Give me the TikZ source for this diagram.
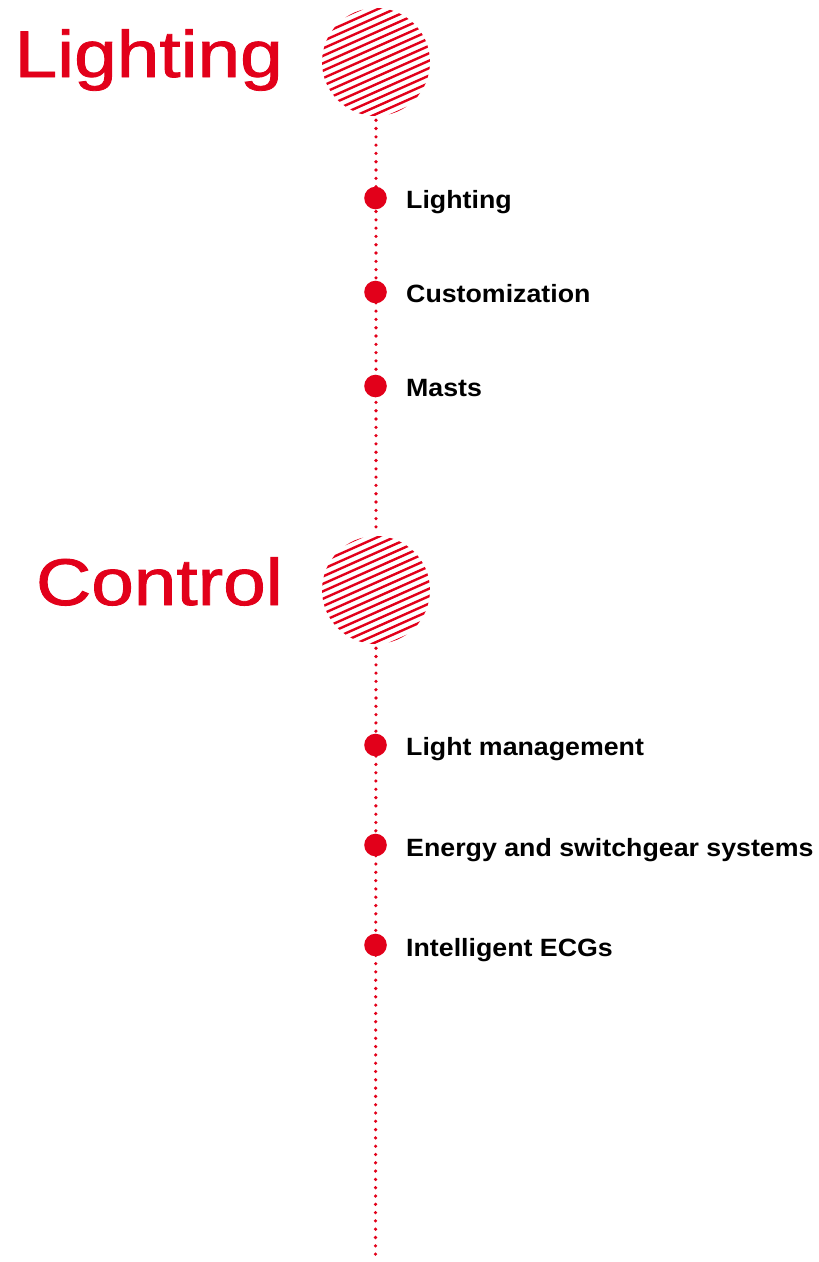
\documentclass[tikz,border=0pt]{standalone}
\usepackage{fontspec}
\setmainfont{Liberation Sans}
\newfontfamily\titlefont[FakeBold=1.2]{Liberation Sans}
\usetikzlibrary{calc}
\definecolor{brandred}{HTML}{E2001A}
\tikzset{
  title/.style={anchor=base east, inner sep=0pt, text=brandred, font=\titlefont\fontsize{66}{66}\selectfont},
  item/.style={anchor=base west, inner sep=0pt, text=black, font=\fontsize{25}{25}\selectfont\bfseries},
  bullet/.style={circle, fill=brandred, draw=none, inner sep=0pt, minimum size=22.6pt},
  dotline/.style={draw=brandred, line width=3.6pt, line cap=round, dash pattern=on 0pt off 8.3pt},
  hatchcircle/.style={circle, draw=none, inner sep=0pt, minimum size=108pt},
  hatchline/.style={draw=brandred, line width=2.4pt},
}
\newcommand{\hatchit}[1]{%
  \begin{scope}
    \clip (#1.center) circle[radius=54pt];
    \foreach \k in {-8,...,8} {
      \draw[hatchline]
        ($(#1.center)+({\k*6.8*sin(24)-70*cos(24)},{\k*6.8*cos(24)+70*sin(24)})$) --
        ($(#1.center)+({\k*6.8*sin(24)+70*cos(24)},{\k*6.8*cos(24)-70*sin(24)})$);
    }
  \end{scope}}
\begin{document}
\begin{tikzpicture}[x=1pt,y=-1pt]
\useasboundingbox (0,0) rectangle (819,1262);
% section circles
\node[hatchcircle] (c1) at (376,62) {};
\node[hatchcircle] (c2) at (376,590) {};
\hatchit{c1}
\hatchit{c2}
% titles
\node[title] (t1) at (283,77) {\scalebox{1.16}[1]{Lighting}};
\node[title] (t2) at (283,605) {\scalebox{1.16}[1]{Control}};
% timeline
\coordinate (end) at (375.5,1257);
\draw[dotline] ([yshift=-4pt]c1.south) -- ([yshift=2pt]c2.north);
\draw[dotline] ([yshift=-4pt]c2.south) -- (end);
% bullets
\node[bullet] (b1) at (375.5,198) {};
\node[bullet] (b2) at (375.5,292) {};
\node[bullet] (b3) at (375.5,386) {};
\node[bullet] (b4) at (375.5,745) {};
\node[bullet] (b5) at (375.5,845) {};
\node[bullet] (b6) at (375.5,945) {};
% labels
\node[item] (l1) at (406,208) {\scalebox{1.07}[1]{Lighting}};
\node[item] (l2) at (406,302) {\scalebox{1.07}[1]{Customization}};
\node[item] (l3) at (406,396) {\scalebox{1.07}[1]{Masts}};
\node[item] (l4) at (406,755) {\scalebox{1.07}[1]{Light management}};
\node[item] (l5) at (406,856) {\scalebox{1.07}[1]{Energy and switchgear systems}};
\node[item] (l6) at (406,956) {\scalebox{1.07}[1]{Intelligent ECGs}};
\end{tikzpicture}
\end{document}
